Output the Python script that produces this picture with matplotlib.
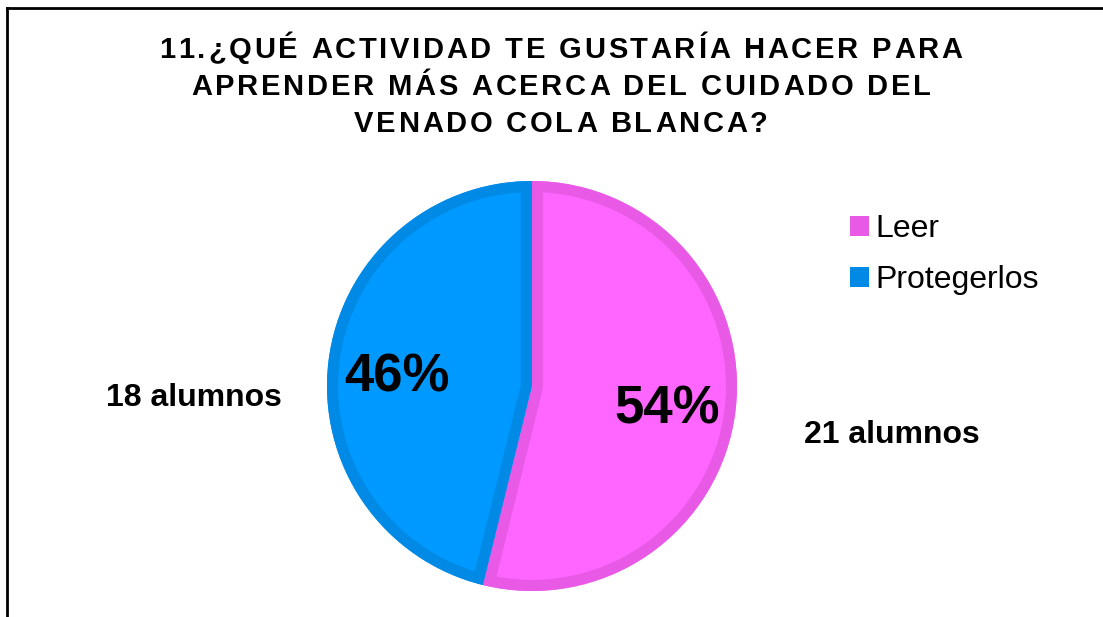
import matplotlib
matplotlib.use('Agg')
import matplotlib.pyplot as plt
from matplotlib.patches import Patch, Wedge
from matplotlib.lines import Line2D
from matplotlib.font_manager import FontProperties, findfont, get_font

plt.rcParams['font.family'] = ['Liberation Sans', 'DejaVu Sans']

labels = ['Leer', 'Protegerlos']
alumnos = [21, 18]
fill_colors = ['#FF66FF', '#0099FF']
edge_colors = ['#E85AE6', '#008AE6']
count_labels = ['21 alumnos', '18 alumnos']

title_lines = ['11.¿QUÉ ACTIVIDAD TE GUSTARÍA HACER PARA',
               'APRENDER MÁS ACERCA DEL CUIDADO DEL',
               'VENADO COLA BLANCA?']

W, H = 1103, 617
fig = plt.figure(figsize=(W / 100, H / 100), dpi=100)
ax = fig.add_axes([0, 0, 1, 1])

total = sum(alumnos)
pct = [round(v * 100 / total) for v in alumnos]

# eje y invertido (coordenadas en pixeles): startangle=-90 y antihorario = arriba y horario en pantalla
wedges, _ = ax.pie(alumnos, colors=fill_colors, startangle=-90, counterclock=True,
                   center=(532, 386), radius=205, frame=True)
ax.set_xlim(0, W)
ax.set_ylim(H, 0)
ax.set_aspect('equal')
ax.axis('off')

# borde interior mas oscuro de cada sector
for w, ec in zip(wedges, edge_colors):
    b = Wedge(w.center, w.r, w.theta1, w.theta2, facecolor='none', edgecolor=ec, lw=16)
    ax.add_patch(b)
    b.set_clip_path(w.get_path(), w.get_transform())

# porcentajes
ax.text(667, 423, f'{pct[0]}%', fontsize=38, fontweight='bold', ha='center', va='baseline')
ax.text(397, 392, f'{pct[1]}%', fontsize=38, fontweight='bold', ha='center', va='baseline')

# cantidades
ax.text(892, 443, count_labels[0], fontsize=23, fontweight='bold', ha='center', va='baseline')
ax.text(194, 406, count_labels[1], fontsize=23, fontweight='bold', ha='center', va='baseline')

# titulo con espaciado entre letras
tprop = FontProperties(family='Liberation Sans', weight='bold', size=21)
ft = get_font(findfont(tprop))
ft.set_size(21, 100)


def advances(s):
    return [ft.load_char(ord(c)).linearHoriAdvance / 65536 for c in s]


a1 = advances(title_lines[0])
gap = (803 - sum(a1)) / (len(title_lines[0]) - 1)
for line, ybase in zip(title_lines, [58, 95, 132]):
    ws = advances(line)
    x = 561 - (sum(ws) + gap * (len(line) - 1)) / 2
    for c, cw in zip(line, ws):
        ax.text(x, ybase, c, fontproperties=tprop, ha='left', va='baseline')
        x += cw + gap

handles = [Patch(facecolor=c, edgecolor='none') for c in edge_colors]
ax.legend(handles, labels, loc='upper left', bbox_to_anchor=(850 / W, 1 - 214 / H),
          bbox_transform=fig.transFigure, frameon=False, fontsize=23,
          handlelength=0.6, handleheight=0.6, handletextpad=0.2, labelspacing=0.66,
          borderaxespad=0, borderpad=0)

# marco
fig.add_artist(Line2D([7 / W, 7 / W], [0, 1 - 8 / H], color='black', lw=2,
                      transform=fig.transFigure))
fig.add_artist(Line2D([7 / W, 1], [1 - 8 / H, 1 - 8 / H], color='black', lw=2,
                      transform=fig.transFigure))

fig.savefig('out.png', dpi=100)
